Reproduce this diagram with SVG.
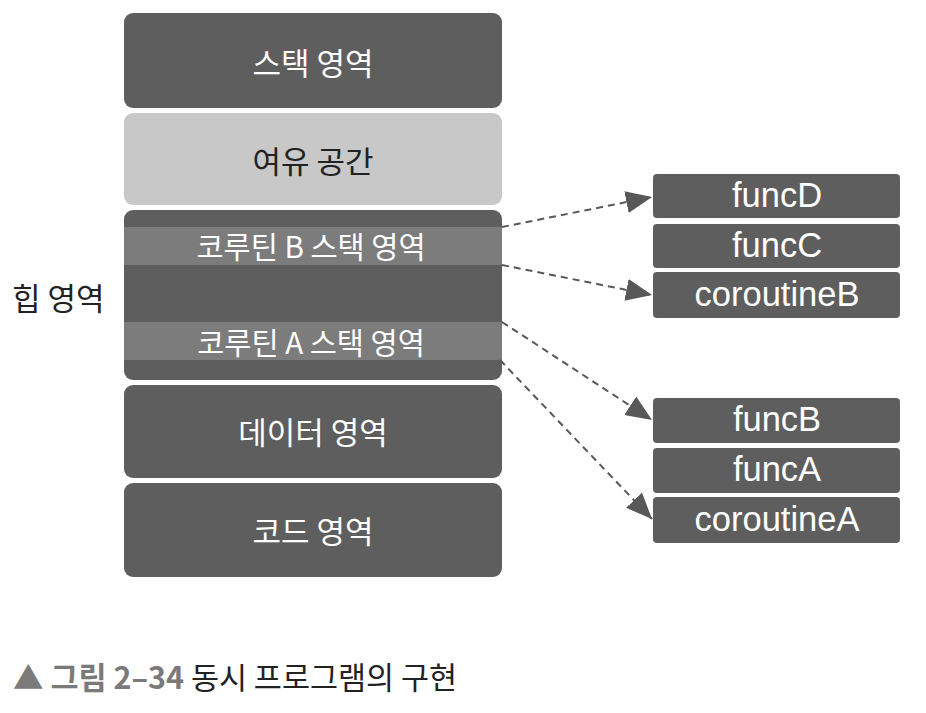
<svg xmlns="http://www.w3.org/2000/svg" width="926" height="713" viewBox="0 0 926 713">
<style>
.dark{fill:#5e5e5e}
.light{fill:#c8c8c8}
.band{fill:#7c7c7c}
.kw{font-family:"Noto Sans CJK KR","Noto Sans",sans-serif;font-size:31px;fill:#ffffff;text-anchor:middle;dominant-baseline:central}
.kb{font-family:"Noto Sans CJK KR","Noto Sans",sans-serif;font-size:29.5px;fill:#ffffff;text-anchor:middle;dominant-baseline:central}
.en{font-family:"Liberation Sans",Arial,sans-serif;font-size:34.5px;fill:#ffffff;text-anchor:middle;dominant-baseline:central}
.conn{stroke:#585858;stroke-width:2;stroke-dasharray:7 5;fill:none}
</style>
<defs>
<marker id="ah" markerUnits="userSpaceOnUse" markerWidth="28" markerHeight="24" refX="26" refY="11" orient="auto">
<path d="M0,0 L26,11 L0,22 z" fill="#585858"/>
</marker>
</defs>
<rect width="926" height="713" fill="#ffffff"/>

<g id="stack">
<rect class="dark" x="124" y="13" width="378" height="95" rx="9"/>
<text class="kw" x="313" y="61">스택 영역</text>
</g>
<g id="free">
<rect class="light" x="124" y="113" width="378" height="92" rx="9"/>
<text class="kw" x="313" y="159" style="fill:#222">여유 공간</text>
</g>
<g id="heap">
<rect class="dark" x="124" y="210" width="378" height="170" rx="9"/>
<rect class="band" x="124" y="227" width="378" height="38"/>
<rect class="band" x="124" y="322" width="378" height="38"/>
<text class="kb" x="311" y="245">코루틴 B 스택 영역</text>
<text class="kb" x="311" y="341">코루틴 A 스택 영역</text>
</g>
<g id="heaplabel">
<text x="12" y="296" style="font-family:'Noto Sans CJK KR','Noto Sans',sans-serif;font-size:31px;fill:#222;dominant-baseline:central">힙 영역</text>
</g>
<g id="data">
<rect class="dark" x="124" y="385" width="378" height="93" rx="9"/>
<text class="kw" x="313" y="430">데이터 영역</text>
</g>
<g id="code">
<rect class="dark" x="124" y="483" width="378" height="94" rx="9"/>
<text class="kw" x="313" y="529">코드 영역</text>
</g>

<g id="funcD"><rect class="dark" x="653" y="174" width="247" height="44" rx="4"/><text class="en" x="777" y="195">funcD</text></g>
<g id="funcC"><rect class="dark" x="653" y="224" width="247" height="44" rx="4"/><text class="en" x="777" y="245">funcC</text></g>
<g id="coroutineB"><rect class="dark" x="653" y="272" width="247" height="46" rx="4"/><text class="en" x="777" y="294">coroutineB</text></g>
<g id="funcB"><rect class="dark" x="653" y="398" width="247" height="45" rx="4"/><text class="en" x="777" y="419">funcB</text></g>
<g id="funcA"><rect class="dark" x="653" y="448" width="247" height="45" rx="4"/><text class="en" x="777" y="469">funcA</text></g>
<g id="coroutineA"><rect class="dark" x="653" y="497" width="247" height="46" rx="4"/><text class="en" x="777" y="519">coroutineA</text></g>

<g id="connectors">
<line class="conn" x1="502" y1="227" x2="652" y2="197" marker-end="url(#ah)"/>
<line class="conn" x1="502" y1="265" x2="652" y2="295" marker-end="url(#ah)"/>
<line class="conn" x1="502" y1="322" x2="652" y2="420" marker-end="url(#ah)"/>
<line class="conn" x1="500" y1="360" x2="652" y2="519" marker-end="url(#ah)"/>
</g>

<g id="caption">
<text x="13" y="676" style="font-family:'Noto Sans CJK KR','Noto Sans',sans-serif;font-size:30.5px;dominant-baseline:central"><tspan fill="#7a7a7a" font-weight="bold">▲ 그림 2–34</tspan><tspan fill="#222"> 동시 프로그램의 구현</tspan></text>
</g>
</svg>
